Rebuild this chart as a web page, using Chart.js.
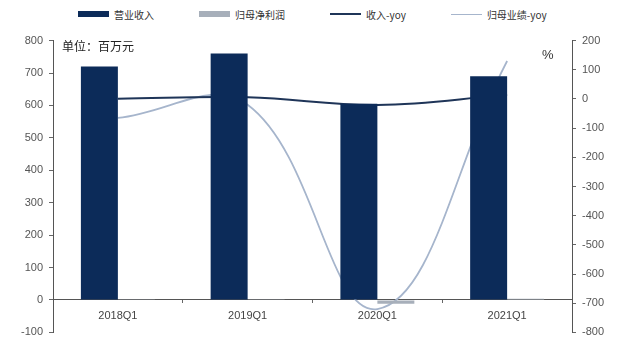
<!DOCTYPE html>
<html>
<head>
<meta charset="utf-8">
<script src="https://cdn.jsdelivr.net/npm/chart.js@4.4.1/dist/chart.umd.min.js"></script>
<style>
  html, body { margin: 0; padding: 0; background: #fff; overflow: hidden; }
  #legenda {
    height: 28px;
    display: flex;
    align-items: center;
    gap: 45px;
    padding-left: 78px;
    box-sizing: border-box;
    font: 10px "Noto Sans CJK SC", sans-serif;
    color: #333;
  }
  #legenda .item { display: flex; align-items: center; gap: 5px; white-space: nowrap; }
  #legenda .marca { width: 31px; }
  #wrap { width: 622px; height: 317px; }
</style>
</head>
<body>
<div id="legenda"></div>
<div id="wrap"><canvas id="grafReceita"></canvas></div>
<script>
// categorias e séries
const quarters = ['2018Q1', '2019Q1', '2020Q1', '2021Q1'];
const revenue = [720, 760, 605, 690];          // 营业收入 (百万元)
const netProfit = [2.5, 2, -12, 4];            // 归母净利润 (百万元)
const revenueYoy = [1, 5.6, -20.4, 14];        // 收入-yoy (%)
const profitYoy = [-65, -20, -720, 130];       // 归母业绩-yoy (%)

const navy = '#0c2b59';
const grey = '#a7afba';
const navyLine = '#1f3558';
const lightLine = '#a6b5cc';
const tickFont = { family: 'Liberation Sans, Arial, sans-serif', size: 11 };

// textos extras dentro do gráfico
const notas = {
  id: 'notas',
  afterDraw(chart) {
    const c = chart.ctx;
    const area = chart.chartArea;
    c.save();
    c.fillStyle = '#222';
    c.font = '12px "Noto Sans CJK SC"';
    c.textBaseline = 'middle';
    c.fillText('单位：百万元', area.left + 9, area.top + 6);
    c.fillStyle = '#333';
    c.font = '13px "Liberation Sans"';
    c.fillText('%', area.right - 30, area.top + 15);
    c.restore();
  }
};

const ctx = document.getElementById('grafReceita').getContext('2d');

const myChart = new Chart(ctx, {
  data: {
    labels: quarters,
    datasets: [
      {
        type: 'bar',
        label: '营业收入',
        data: revenue,
        backgroundColor: navy,
        yAxisID: 'y',
        categoryPercentage: 0.57,
        barPercentage: 1
      },
      {
        type: 'bar',
        label: '归母净利润',
        data: netProfit,
        backgroundColor: grey,
        yAxisID: 'y',
        categoryPercentage: 0.57,
        barPercentage: 1
      },
      {
        type: 'line',
        label: '收入-yoy',
        data: revenueYoy,
        borderColor: navyLine,
        backgroundColor: navyLine,
        borderWidth: 2,
        pointRadius: 0,
        tension: 0.4,
        yAxisID: 'y1'
      },
      {
        type: 'line',
        label: '归母业绩-yoy',
        data: profitYoy,
        borderColor: lightLine,
        backgroundColor: lightLine,
        borderWidth: 1.8,
        pointRadius: 0,
        tension: 0.4,
        yAxisID: 'y1'
      }
    ]
  },
  options: {
    responsive: true,
    maintainAspectRatio: false,
    animation: false,
    layout: { padding: 0 },
    plugins: {
      tooltip: { enabled: false },
      legend: { display: false }
    },
    scales: {
      x: {
        position: { y: 0 },
        grid: { drawOnChartArea: false, drawTicks: true, tickLength: 3, color: '#666' },
        border: { color: '#555', width: 1 },
        ticks: { color: '#444', font: tickFont, padding: 6 }
      },
      y: {
        position: 'left',
        min: -100,
        max: 800,
        afterFit: (s) => { s.width = 53; },
        grid: { drawOnChartArea: false, tickLength: 4, color: '#666' },
        border: { color: '#555', width: 1 },
        ticks: { stepSize: 100, color: '#555', font: tickFont, padding: 6 }
      },
      y1: {
        position: 'right',
        min: -800,
        max: 200,
        afterFit: (s) => { s.width = 50; },
        grid: { drawOnChartArea: false, tickLength: 4, color: '#666' },
        border: { color: '#555', width: 1 },
        ticks: { stepSize: 100, color: '#555', font: tickFont, padding: 6 }
      }
    }
  },
  plugins: [notas]
});

// legenda em html, montada a partir dos datasets
const legenda = document.getElementById('legenda');
myChart.data.datasets.forEach((ds) => {
  const item = document.createElement('span');
  item.className = 'item';
  const marca = document.createElement('span');
  marca.className = 'marca';
  if (ds.type === 'bar') {
    marca.style.height = '6px';
    marca.style.background = ds.backgroundColor;
  } else {
    marca.style.height = ds.borderWidth >= 2 ? '2px' : '1px';
    marca.style.background = ds.borderColor;
  }
  const texto = document.createElement('span');
  texto.textContent = ds.label;
  item.appendChild(marca);
  item.appendChild(texto);
  legenda.appendChild(item);
});
</script>
</body>
</html>
